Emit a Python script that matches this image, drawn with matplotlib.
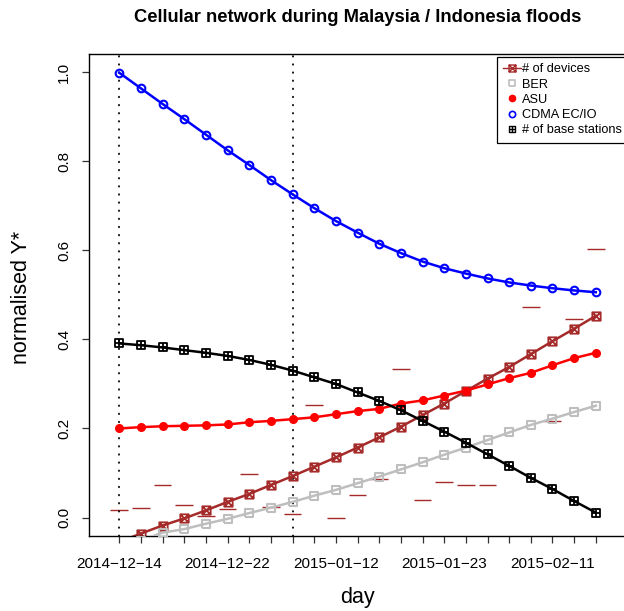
"""
Cellular network during Malaysia / Indonesia floods
normalised series per day
"""
import numpy as np
import matplotlib
matplotlib.use('Agg')
import matplotlib.pyplot as plt
from matplotlib.path import Path
from matplotlib.lines import Line2D

plt.rcParams['font.family'] = ['Liberation Sans', 'DejaVu Sans']

# data
day_labels = ['2014\u221212\u221214', '', '', '', '', '2014\u221212\u221222', '', '', '', '',
              '2015\u221201\u221212', '', '', '', '', '2015\u221201\u221223', '', '', '', '',
              '2015\u221202\u221211', '', '']
devices = [-0.055, -0.036, -0.018, -0.002, 0.016, 0.035, 0.053, 0.073, 0.093, 0.114,
           0.135, 0.157, 0.180, 0.204, 0.230, 0.256, 0.284, 0.312, 0.338, 0.367,
           0.396, 0.424, 0.453]
devices_med = [0.016, 0.021, 0.072, 0.027, 0.003, 0.019, 0.097, 0.023, 0.007, 0.252,
               -0.001, 0.050, 0.086, 0.333, 0.039, 0.079, 0.072, 0.072, np.nan, 0.472,
               0.216, 0.445, 0.602]
ber = [-0.065, -0.052, -0.034, -0.026, -0.014, -0.003, 0.010, 0.022, 0.035, 0.049,
       0.062, 0.077, 0.092, 0.108, 0.124, 0.141, 0.157, 0.174, 0.191, 0.208,
       0.222, 0.237, 0.251]
asu = [0.200, 0.203, 0.205, 0.206, 0.207, 0.209, 0.214, 0.217, 0.221, 0.225,
       0.232, 0.239, 0.244, 0.256, 0.263, 0.274, 0.285, 0.299, 0.313, 0.325,
       0.342, 0.358, 0.370]
cdma = [0.999, 0.964, 0.929, 0.895, 0.860, 0.825, 0.792, 0.758, 0.726, 0.695,
        0.666, 0.640, 0.615, 0.594, 0.575, 0.560, 0.548, 0.537, 0.528, 0.521,
        0.515, 0.510, 0.506]
stations = [0.391, 0.387, 0.382, 0.376, 0.370, 0.363, 0.354, 0.343, 0.330, 0.315,
            0.300, 0.281, 0.262, 0.241, 0.217, 0.193, 0.168, 0.142, 0.116, 0.089,
            0.064, 0.037, 0.011]
event_days = [0, 8]

x = np.arange(len(day_labels))

# R-style markers: square with x, square with plus
M, L, C = Path.MOVETO, Path.LINETO, Path.CLOSEPOLY
sq = [(-1, -1), (1, -1), (1, 1), (-1, 1), (-1, -1)]
sq_codes = [M, L, L, L, C]
sq_x = Path(sq + [(-1, -1), (1, 1), (-1, 1), (1, -1)], sq_codes + [M, L, M, L])
sq_plus = Path(sq + [(0, -1), (0, 1), (-1, 0), (1, 0)], sq_codes + [M, L, M, L])

fig = plt.figure(figsize=(6.24, 6.11), dpi=100)
ax = fig.add_axes([0.1421, 0.1232, 0.8617, 0.7879])

# medians as short dashes
ax.hlines(devices_med, x - 0.41, x + 0.41, color='#A52A2A', lw=1.0, zorder=1)

for d in event_days:
    ax.axvline(d, color='black', lw=1.3, linestyle=(0, (0.3, 4.2)),
               dash_capstyle='round', zorder=1)

ms = 6
ax.plot(x, devices, color='#A52A2A', lw=1.8, marker=sq_x, ms=ms, mew=1.3,
        mfc='none', zorder=2)
ax.plot(x, ber, color='#BEBEBE', lw=1.8, marker=sq, ms=ms, mew=1.5,
        mfc='none', zorder=3)
ax.plot(x, asu, color='red', lw=1.8, marker='o', ms=5.5, zorder=4)
ax.plot(x, cdma, color='blue', lw=1.8, marker='o', ms=5.5, mew=1.5,
        mfc='none', zorder=5)
ax.plot(x, stations, color='black', lw=1.8, marker=sq_plus, ms=ms, mew=1.3,
        mfc='none', zorder=6)

ax.set_xlim(-1.41, 23.41)
ax.set_ylim(-0.0409, 1.0404)
ax.set_xticks(x)
ax.set_xticklabels(day_labels)
yt = [0.0, 0.2, 0.4, 0.6, 0.8, 1.0]
ax.set_yticks(yt)
ax.set_yticklabels([f'{v:.1f}' for v in yt], rotation=90, va='center')
ax.tick_params(axis='both', direction='out', length=5, width=0.9,
               labelsize=11, color='#333333')
ax.tick_params(axis='x', pad=10.5)
ax.tick_params(axis='y', pad=7.5)
for s in ax.spines.values():
    s.set_linewidth(1.0)

fig.text(357.5 / 624, 1 - 18 / 611, 'Cellular network during Malaysia / Indonesia floods',
         ha='center', va='center', fontsize=13.2, fontweight='bold')
fig.text(357.5 / 624, 1 - 597 / 611, 'day', ha='center', va='center', fontsize=15.5)
fig.text(22 / 624, 1 - 297 / 611, 'normalised Y*', ha='center', va='center',
         rotation=90, fontsize=15.5)

handles = [
    Line2D([], [], color='#A52A2A', lw=1.0, marker=sq_x, ms=5, mew=1.0, mfc='none'),
    Line2D([], [], color='#BEBEBE', lw=0, marker=sq, ms=5, mew=1.2, mfc='none'),
    Line2D([], [], color='red', lw=0, marker='o', ms=4.5),
    Line2D([], [], color='blue', lw=0, marker='o', ms=4.5, mew=1.2, mfc='none'),
    Line2D([], [], color='black', lw=0, marker=sq_plus, ms=5, mew=1.0, mfc='none'),
]
labels = ['# of devices', 'BER', 'ASU', 'CDMA EC/IO', '# of base stations']
leg = ax.legend(handles, labels, loc='upper left',
                bbox_to_anchor=(497 / 624, 1 - 57 / 611), bbox_transform=fig.transFigure,
                fontsize=9.2, frameon=True, fancybox=False, framealpha=1,
                edgecolor='black', borderpad=0.5, labelspacing=0.25,
                handlelength=1.4, handletextpad=0.05, borderaxespad=0)
leg.get_frame().set_linewidth(0.9)

fig.savefig('out.png', dpi=100)
